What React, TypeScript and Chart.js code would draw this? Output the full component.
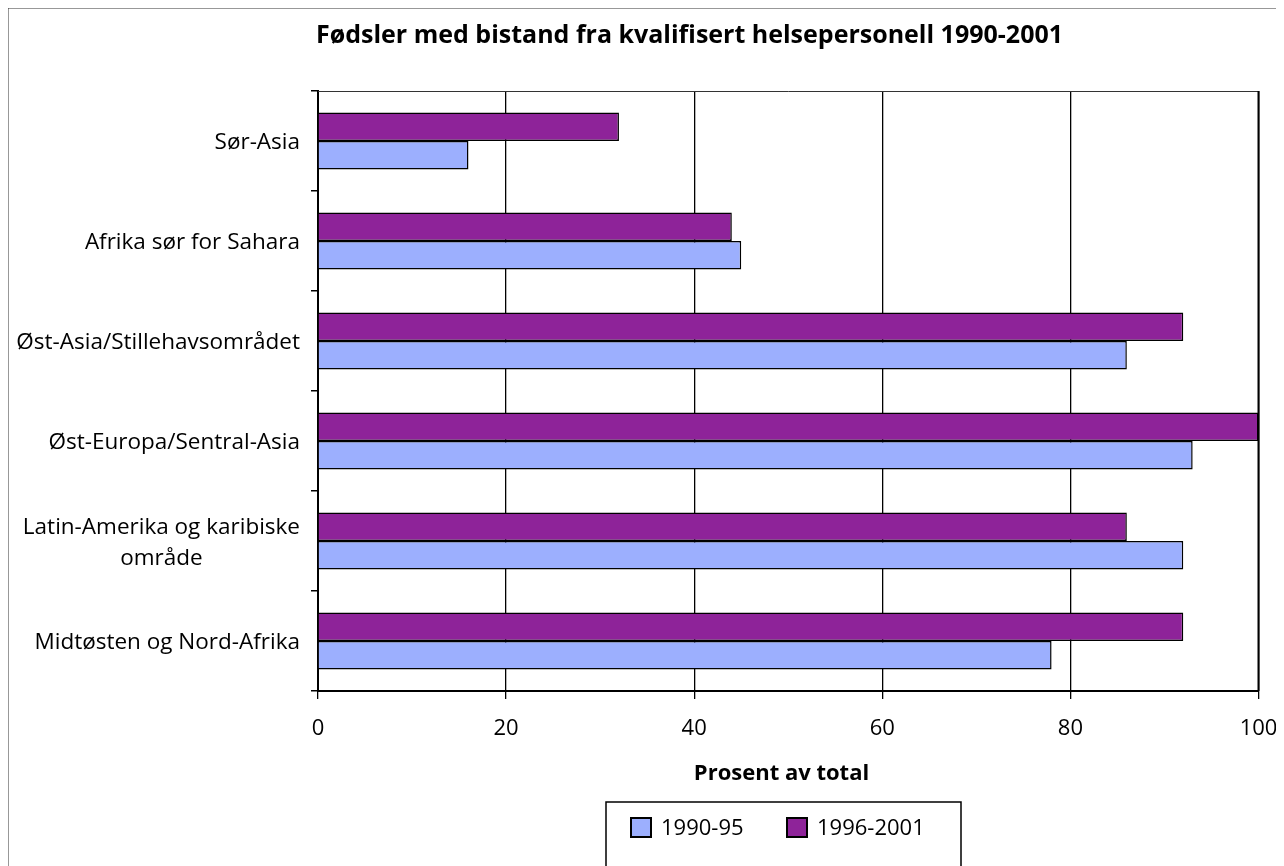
import React, { useEffect, useRef } from "react";
import { Chart, registerables } from "chart.js";

Chart.register(...registerables);

// ---- data ----
const categories: (string | string[])[] = [
  "Sør-Asia",
  "Afrika sør for Sahara",
  "Øst-Asia/Stillehavsområdet",
  "Øst-Europa/Sentral-Asia",
  ["Latin-Amerika og karibiske", "område"],
  "Midtøsten og Nord-Afrika",
];
const series1990_95 = [16, 45, 86, 93, 92, 78];
const series1996_2001 = [32, 44, 92, 100, 86, 92];
const seriesLabels = ["1990-95", "1996-2001"];
const xMin = 0;
const xMax = 100;
const xStep = 20;
const chartTitle = "Fødsler med bistand fra kvalifisert helsepersonell 1990-2001";
const xAxisTitle = "Prosent av total";

// ---- style ----
const BLUE = "#9CAFFE";
const PURPLE = "#8E2399";
const FONT = "'Open Sans', 'Noto Sans', sans-serif";
const W = 1277;
const H = 859;

const decor = {
  id: "decor",
  beforeDraw(chart: any) {
    const ctx = chart.ctx;
    ctx.save();
    ctx.fillStyle = "#fff";
    ctx.fillRect(0, 0, chart.width, chart.height);
    ctx.restore();
  },
  afterDatasetsDraw(chart: any) {
    const { ctx, chartArea } = chart;
    ctx.save();
    ctx.strokeStyle = "#333";
    ctx.lineWidth = 1;
    ctx.beginPath();
    ctx.moveTo(chartArea.left, chartArea.top + 0.5);
    ctx.lineTo(chartArea.right, chartArea.top + 0.5);
    ctx.stroke();
    ctx.strokeStyle = "#000";
    ctx.lineWidth = 2;
    ctx.beginPath();
    ctx.moveTo(chartArea.right, chartArea.top);
    ctx.lineTo(chartArea.right, chartArea.bottom);
    ctx.stroke();
    ctx.restore();
  },
  afterDraw(chart: any) {
    const { ctx } = chart;
    ctx.save();
    // outer frame (left, top, right)
    ctx.strokeStyle = "#333";
    ctx.lineWidth = 1.5;
    ctx.beginPath();
    ctx.moveTo(0.75, chart.height);
    ctx.lineTo(0.75, 0.75);
    ctx.lineTo(chart.width - 0.75, 0.75);
    ctx.lineTo(chart.width - 0.75, chart.height);
    ctx.stroke();

    // title
    ctx.fillStyle = "#000";
    ctx.font = `bold 25px ${FONT}`;
    ctx.textAlign = "center";
    ctx.textBaseline = "alphabetic";
    ctx.fillText(chartTitle, 682.5, 36);

    // x axis title
    ctx.font = `bold 22px ${FONT}`;
    ctx.fillText(xAxisTitle, 774.5, 773);

    // category labels (right-aligned block, centered lines)
    const yScale = chart.scales.y;
    ctx.font = `22.5px ${FONT}`;
    const labels = chart.data.labels as (string | string[])[];
    labels.forEach((lab, i) => {
      const lines = Array.isArray(lab) ? lab : [lab];
      const yc = yScale.getPixelForValue(i);
      const maxW = Math.max(...lines.map((l) => ctx.measureText(l).width));
      const xc = 293 - maxW / 2;
      const lh = 31;
      lines.forEach((l, k) => {
        const y = yc + (k - (lines.length - 1) / 2) * lh + 8;
        ctx.fillText(l, xc, y);
      });
    });

    // legend
    const lx = 599, ly = 795;
    ctx.strokeStyle = "#000";
    ctx.lineWidth = 1.5;
    ctx.beginPath();
    ctx.moveTo(lx, chart.height);
    ctx.lineTo(lx, ly);
    ctx.lineTo(954, ly);
    ctx.lineTo(954, chart.height);
    ctx.stroke();
    const ds = chart.data.datasets;
    const order = [1, 0];
    const boxX = [624, 780];
    ctx.textAlign = "left";
    order.forEach((di, k) => {
      const d = ds[di];
      ctx.fillStyle = d.backgroundColor;
      ctx.fillRect(boxX[k], 811, 20, 19);
      ctx.strokeStyle = "#000";
      ctx.lineWidth = 2;
      ctx.strokeRect(boxX[k], 811, 20, 19);
      ctx.fillStyle = "#000";
      ctx.font = `22px ${FONT}`;
      ctx.fillText(d.label, boxX[k] + 30, 828);
    });
    ctx.restore();
  },
};

export default function App() {
  const ref = useRef<HTMLCanvasElement>(null);
  useEffect(() => {
    document.documentElement.style.overflow = "hidden";
    document.body.style.overflow = "hidden";
    const canvas = ref.current!;
    const chart = new Chart(canvas, {
      type: "bar",
      data: {
        labels: categories as any,
        datasets: [
          {
            label: seriesLabels[1],
            data: series1996_2001,
            backgroundColor: PURPLE,
            borderColor: "#000",
            borderWidth: 1.5,
          },
          {
            label: seriesLabels[0],
            data: series1990_95,
            backgroundColor: BLUE,
            borderColor: "#000",
            borderWidth: 1.5,
          },
        ],
      },
      options: {
        indexAxis: "y",
        responsive: false,
        animation: false,
        devicePixelRatio: 1,
        layout: { padding: { left: 10, right: 25.5, top: 84, bottom: 75 } },
        datasets: { bar: { categoryPercentage: 0.57, barPercentage: 1 } } as any,
        plugins: {
          legend: { display: false },
          title: { display: false },
          tooltip: { enabled: false },
        },
        scales: {
          x: {
            type: "linear",
            min: xMin,
            max: xMax,
            ticks: {
              stepSize: xStep,
              color: "#000",
              font: { family: FONT, size: 22 },
              padding: 17,
            },
            grid: { color: "#000", lineWidth: 1.3, tickLength: 8 },
            border: { color: "#000", width: 2 },
            afterFit: (s: any) => {
              s.height = 100;
              s.paddingLeft = 0;
              s.paddingRight = 0;
            },
          },
          y: {
            ticks: { display: false },
            grid: { drawOnChartArea: false, color: "#000", lineWidth: 1.5, tickLength: 7 },
            border: { color: "#000", width: 2 },
            z: 1,
            afterFit: (s: any) => {
              s.width = 301;
              s.paddingTop = 0;
              s.paddingBottom = 0;
            },
          } as any,
        },
      },
      plugins: [decor],
    });
    return () => chart.destroy();
  }, []);
  return (
    <canvas
      ref={ref}
      width={W}
      height={H}
      style={{ display: "block", position: "relative", left: -1, top: -1, width: W, height: H }}
    />
  );
}
